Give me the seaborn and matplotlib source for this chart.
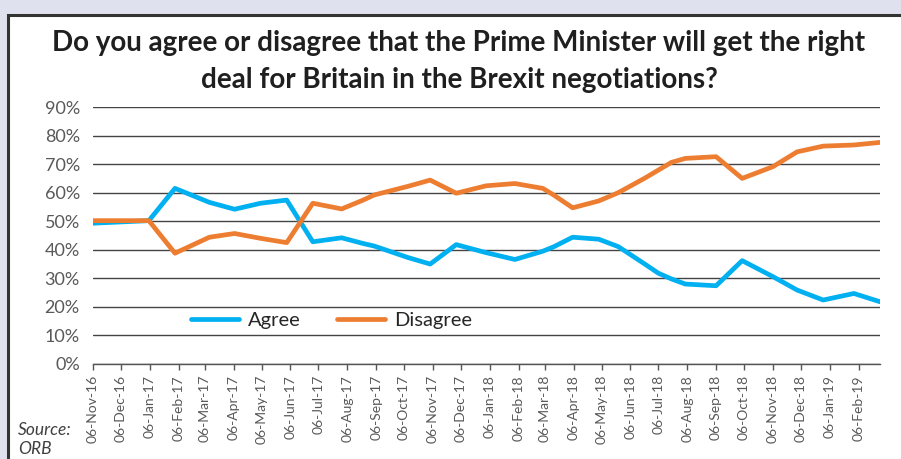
import matplotlib
matplotlib.use("Agg")
import matplotlib.pyplot as plt
from matplotlib.patches import Rectangle
import matplotlib.dates as mdates
import pandas as pd
import seaborn as sns

# ORB polling: "Do you agree or disagree that the Prime Minister will get
# the right deal for Britain in the Brexit negotiations?"
survey_dates = [
    "2016-11-06", "2017-01-05", "2017-02-02", "2017-03-11", "2017-04-07",
    "2017-05-05", "2017-06-02", "2017-06-30", "2017-07-31", "2017-08-23",
    "2017-09-04", "2017-10-10", "2017-11-03", "2017-12-01", "2018-01-02",
    "2018-02-02", "2018-03-04", "2018-03-16", "2018-04-05", "2018-05-03",
    "2018-05-24", "2018-06-21", "2018-07-06", "2018-07-20", "2018-08-04",
    "2018-09-06", "2018-10-04", "2018-11-06", "2018-12-02", "2018-12-30",
    "2019-02-01", "2019-03-01",
]
agree = [
    49.3, 50.2, 61.5, 56.6, 54.2, 56.3, 57.4, 42.8, 44.2, 42.2,
    41.3, 37.3, 35.0, 41.8, 39.0, 36.6, 39.5, 41.1, 44.4, 43.7,
    41.1, 35.1, 31.8, 29.8, 28.0, 27.4, 36.2, 30.6, 25.9, 22.4,
    24.7, 21.8,
]
disagree = [
    50.2, 50.2, 38.8, 44.4, 45.7, 44.0, 42.5, 56.3, 54.3, 57.4,
    59.2, 62.2, 64.4, 59.8, 62.4, 63.2, 61.5, 59.1, 54.7, 57.1,
    60.0, 65.0, 67.9, 70.6, 72.0, 72.6, 65.0, 69.1, 74.3, 76.3,
    76.7, 77.6,
]
series_names = ["Agree", "Disagree"]
series_colors = ["#00B0F0", "#ED7D31"]
y_ticks = [0, 10, 20, 30, 40, 50, 60, 70, 80, 90]
tick_start, tick_end = "2016-11-06", "2019-02-06"

df = pd.DataFrame({
    "date": pd.to_datetime(survey_dates * 2),
    "value": agree + disagree,
    "series": [series_names[0]] * len(agree) + [series_names[1]] * len(disagree),
})

sns.set_theme(style="white")
plt.rcParams["font.family"] = ["Lato", "DejaVu Sans"]

W, H = 901, 459
fig = plt.figure(figsize=(W / 100, H / 100), dpi=100)
fig.patch.set_facecolor("#dfe1ee")

# white framed panel behind everything
panel = Rectangle((8 / W, -0.1), 1.2, 1.1 - 15 / H, transform=fig.transFigure,
                  facecolor="white", edgecolor="#333333", linewidth=2.2, zorder=-5)
fig.patches.append(panel)

ax = fig.add_axes([93 / W, 1 - 364 / H, 787 / W, 257 / H])
ax.set_facecolor("none")

sns.lineplot(data=df, x="date", y="value", hue="series",
             palette=dict(zip(series_names, series_colors)),
             linewidth=3.4, ax=ax, solid_joinstyle="round",
             solid_capstyle="round")

ax.set_xlim(pd.Timestamp(survey_dates[0]), pd.Timestamp(survey_dates[-1]))
ax.set_ylim(0, 90)
ax.set_yticks(y_ticks)
ax.set_yticklabels([f"{v}%" for v in y_ticks])
ticks = pd.date_range(tick_start, tick_end, freq=pd.DateOffset(months=1))
ax.set_xticks(ticks)
ax.xaxis.set_major_formatter(mdates.DateFormatter("%d-%b-%y"))
ax.set_xlabel("")
ax.set_ylabel("")

ax.yaxis.grid(True, color="#444444", linewidth=1.0)
ax.xaxis.grid(False)
for side in ["left", "right", "top"]:
    ax.spines[side].set_visible(False)
ax.spines["bottom"].set_color("#555555")
ax.spines["bottom"].set_linewidth(1.0)
ax.set_axisbelow(True)

ax.tick_params(axis="y", length=0, pad=9.5, labelsize=13, labelcolor="#595959")
ax.tick_params(axis="x", length=4.5, width=1, color="#555555", direction="out",
               pad=3.5, labelsize=10, labelcolor="#595959", bottom=True)
for lab in ax.get_xticklabels():
    lab.set_rotation(90)
    lab.set_va("top")
    lab.set_ha("center")

handles, labels = ax.get_legend_handles_labels()
ax.legend(handles, labels, loc="center", bbox_to_anchor=(0.303, 0.171),
          ncol=2, frameon=False, fontsize=14.5, handlelength=2.4,
          columnspacing=1.8, handletextpad=0.45, labelcolor="#262626")

fig.text(459 / W, 1 - 51 / H,
         "Do you agree or disagree that the Prime Minister will get the right",
         ha="center", va="baseline", fontsize=20, fontweight="bold",
         color="#1f1f1f")
fig.text(459 / W, 1 - 88 / H,
         "deal for Britain in the Brexit negotiations?",
         ha="center", va="baseline", fontsize=20, fontweight="bold",
         color="#1f1f1f")

fig.text(18 / W, 1 - 435 / H, "Source:", ha="left", va="baseline",
         fontsize=12.5, style="italic", color="#404040")
fig.text(18 / W, 1 - 454 / H, "ORB", ha="left", va="baseline",
         fontsize=12.5, style="italic", color="#404040")

fig.savefig("out.png", dpi=100, facecolor=fig.get_facecolor())
